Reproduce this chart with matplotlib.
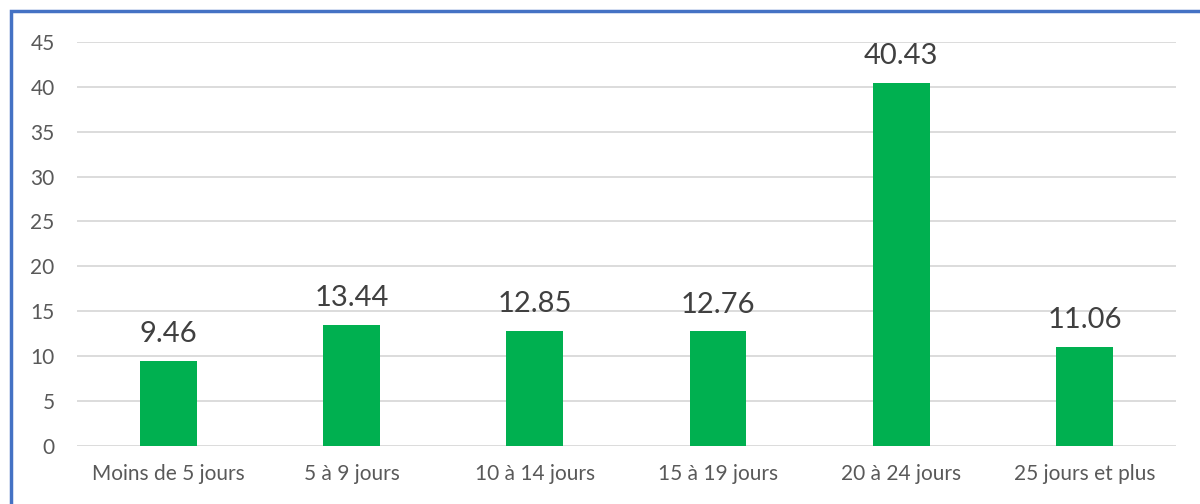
import matplotlib.pyplot as plt
import matplotlib.patches as mpatches

categories = ['Moins de 5 jours', '5 à 9 jours', '10 à 14 jours',
              '15 à 19 jours', '20 à 24 jours', '25 jours et plus']
values = [9.46, 13.44, 12.85, 12.76, 40.43, 11.06]
yticks = [0, 5, 10, 15, 20, 25, 30, 35, 40, 45]

plt.rcParams['font.family'] = ['Lato', 'DejaVu Sans']

fig = plt.figure(figsize=(12, 5.04), dpi=100)
ax = fig.add_axes([0.064, 0.115, 0.916, 0.802])

xs = range(len(categories))
ax.bar(xs, values, width=0.31, color='#00B050', zorder=3)

for x, v in zip(xs, values):
  ax.annotate(f'{v:.2f}', (x, v), xytext=(0, 10), textcoords='offset points',
              ha='center', va='bottom', fontsize=21, color='#404040')

ax.set_xlim(-0.5, len(categories) - 0.5)
ax.set_ylim(0, 45)
ax.set_yticks(yticks)
ax.set_xticks(list(xs))
ax.set_xticklabels(categories)
ax.tick_params(axis='both', length=0, labelsize=15, colors='#595959')
ax.tick_params(axis='y', pad=16)
ax.tick_params(axis='x', pad=13)
ax.grid(axis='y', color='#D9D9D9', linewidth=1.3, zorder=0)
for s in ax.spines.values():
  s.set_visible(False)

# outer border (left + top visible)
fig.patches.append(mpatches.Rectangle((11 / 1200, -0.1), 1.2, 1 - 11 / 504 + 0.1,
                                      transform=fig.transFigure, fill=False,
                                      edgecolor='#4472C4', linewidth=2.5))

fig.savefig('out.png', dpi=100)
